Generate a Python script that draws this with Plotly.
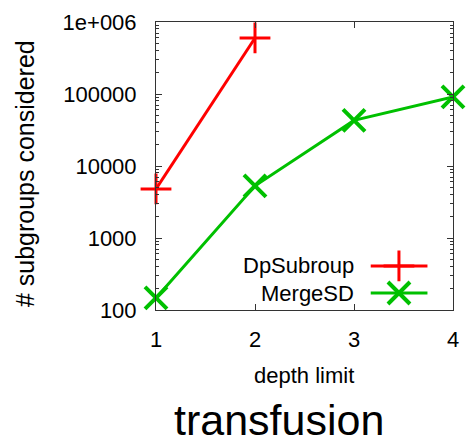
import plotly.graph_objects as go

depth = [1, 2, 3, 4]
dp_depth = [1, 2]
dp_subroup = [4800, 600000]
merge_sd = [147, 5300, 43000, 91000]
y_ticks = [100, 1000, 10000, 100000, 1000000]
y_tick_text = ["100", "1000", "10000", "100000", "1e+006"]

RED = "#ff0000"
GREEN = "#00c000"
FONT = "Liberation Sans, Arial, sans-serif"

fig = go.Figure()

fig.add_trace(go.Scatter(
    x=dp_depth, y=dp_subroup, mode="lines+markers", name="DpSubroup",
    line=dict(color=RED, width=3),
    marker=dict(symbol="cross-thin", size=22, line=dict(color=RED, width=3)),
    cliponaxis=False, showlegend=False))
fig.add_trace(go.Scatter(
    x=depth, y=merge_sd, mode="lines+markers", name="MergeSD",
    line=dict(color=GREEN, width=3),
    marker=dict(symbol="x-thin", size=22, line=dict(color=GREEN, width=4)),
    cliponaxis=False, showlegend=False))

# key: text right-aligned, sample line with marker to its right
legend_rows = [("DpSubroup", RED, "cross-thin", 3, 0.153),
               ("MergeSD", GREEN, "x-thin", 4, 0.059)]
for name, col, sym, lw, ky in legend_rows:
    fig.add_trace(go.Scatter(
        x=[0.723, 0.914], y=[ky, ky], mode="lines", xaxis="x2", yaxis="y2",
        line=dict(color=col, width=3), showlegend=False, hoverinfo="skip"))
    fig.add_trace(go.Scatter(
        x=[0.818], y=[ky], mode="markers", xaxis="x2", yaxis="y2",
        marker=dict(symbol=sym, size=22, line=dict(color=col, width=lw)),
        showlegend=False, hoverinfo="skip", cliponaxis=False))
    fig.add_annotation(x=0.675, y=ky, xref="x2", yref="y2", text=name,
                       showarrow=False, xanchor="right", yanchor="middle",
                       font=dict(family=FONT, size=22, color="black"))

# axis titles and chart caption (plot area spans 303 px from x=156)
fig.add_annotation(x=0.497, y=-0.226, xref="paper", yref="paper", text="depth limit",
                   showarrow=False, xanchor="center", yanchor="middle",
                   font=dict(family=FONT, size=22, color="black"))
fig.add_annotation(x=(23 - 156) / 303, y=0.474, xref="paper", yref="paper",
                   text="# subgroups considered",
                   showarrow=False, xanchor="center", yanchor="middle", textangle=-90,
                   font=dict(family=FONT, size=25, color="black"))
fig.add_annotation(x=0.413, y=-0.383, xref="paper", yref="paper", text="transfusion",
                   showarrow=False, xanchor="center", yanchor="middle",
                   font=dict(family=FONT, size=43, color="black"))

fig.update_layout(
    width=466, height=445,
    margin=dict(l=156, r=7, t=22, b=135),
    paper_bgcolor="white", plot_bgcolor="white",
    font=dict(family=FONT, color="black"),
    xaxis=dict(
        range=[1, 4], tickvals=depth, ticks="inside", ticklen=6, tickcolor="#333",
        mirror="allticks", showline=True, linecolor="#333", linewidth=1,
        showgrid=False, zeroline=False, tickfont=dict(size=22),
        ticklabelstandoff=10),
    yaxis=dict(
        type="log", range=[2, 6], tickvals=y_ticks, ticktext=y_tick_text,
        ticks="inside", ticklen=6, tickcolor="#333",
        mirror="allticks", showline=True, linecolor="#333", linewidth=1,
        showgrid=False, zeroline=False, tickfont=dict(size=22),
        ticklabelstandoff=14,
        minor=dict(ticks="inside", ticklen=3, tickcolor="#333", dtick="D1", showgrid=False)),
    xaxis2=dict(overlaying="x", range=[0, 1], visible=False),
    yaxis2=dict(overlaying="y", range=[0, 1], visible=False),
)

fig.write_html("out.html")
